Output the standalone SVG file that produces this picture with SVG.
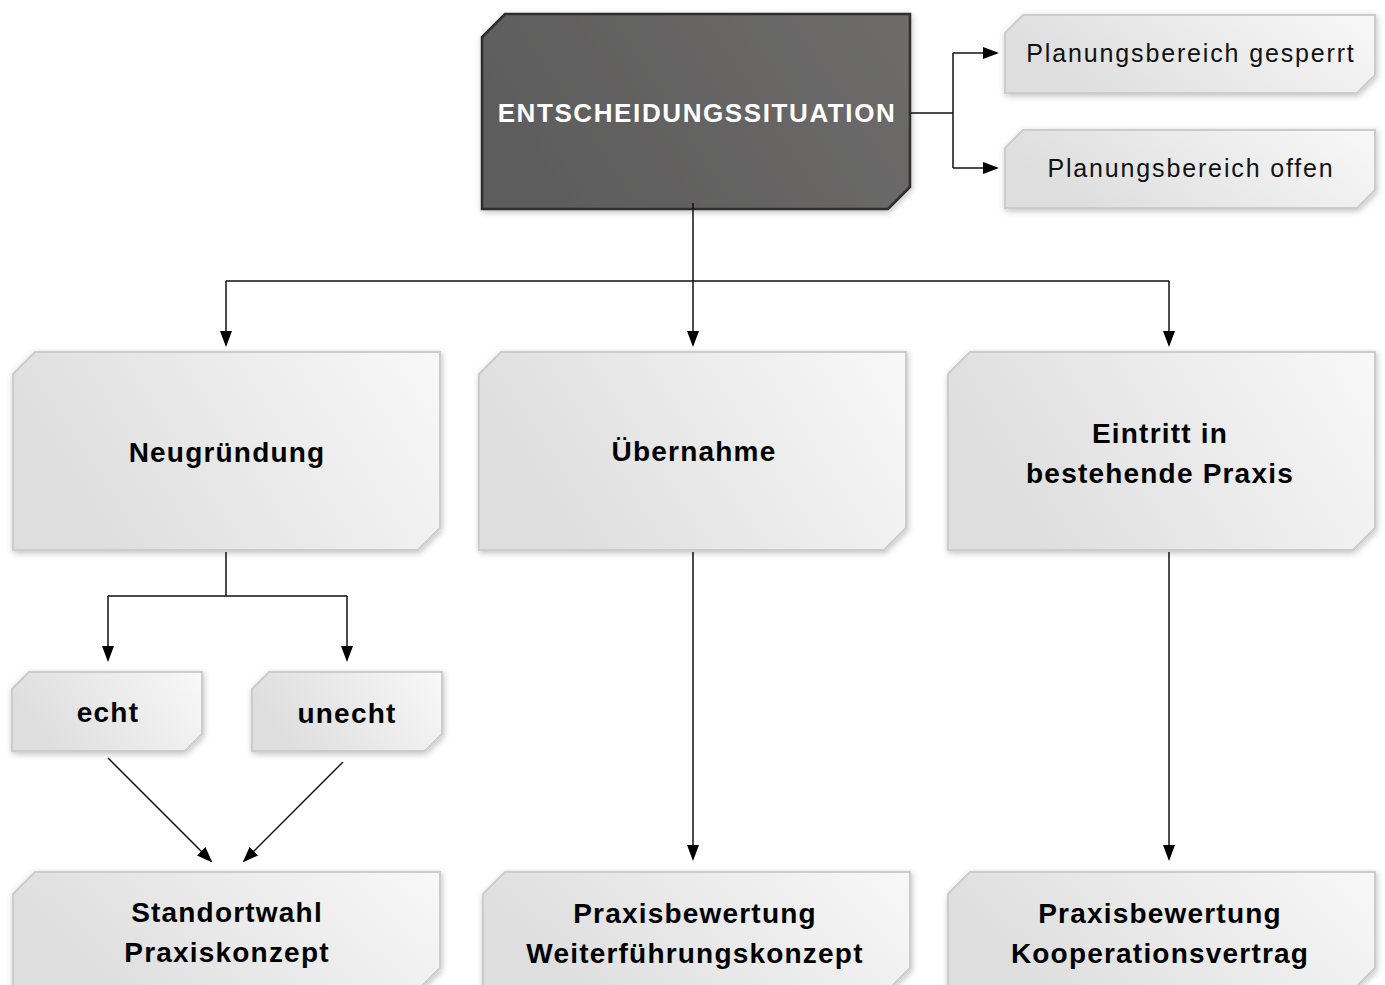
<svg xmlns="http://www.w3.org/2000/svg" width="1385" height="985" viewBox="0 0 1385 985">
<defs>
<linearGradient id="gLight" x1="0" y1="0.3" x2="1" y2="0">
<stop offset="0" stop-color="#dedede"/>
<stop offset="1" stop-color="#f8f8f8"/>
</linearGradient>
<linearGradient id="gDark" x1="0" y1="0.3" x2="1" y2="0">
<stop offset="0" stop-color="#5d5d5d"/>
<stop offset="1" stop-color="#6e6c6b"/>
</linearGradient>
<filter id="shadow" x="-10%" y="-10%" width="120%" height="130%">
<feDropShadow dx="1" dy="2" stdDeviation="3" flood-color="#000" flood-opacity="0.25"/>
</filter>
<marker id="arr" viewBox="0 0 16 12" refX="14" refY="6" markerWidth="16" markerHeight="12" markerUnits="userSpaceOnUse" orient="auto">
<path d="M0,0 L16,6 L0,12 Z" fill="#000"/>
</marker>
</defs>
<style>
.light{fill:url(#gLight);stroke:#cccccc;stroke-width:2;filter:url(#shadow)}
.dark{fill:url(#gDark);stroke:#2d2d2d;stroke-width:2.5;filter:url(#shadow)}
.b{font-family:"Liberation Sans",Arial,sans-serif;font-weight:bold;font-size:28px;letter-spacing:1.2px;fill:#000;text-anchor:middle}
.r{font-family:"Liberation Sans",Arial,sans-serif;font-size:25px;letter-spacing:1.85px;fill:#111;text-anchor:middle}
.w{font-family:"Liberation Sans",Arial,sans-serif;font-weight:bold;font-size:26px;letter-spacing:1.6px;fill:#fff;text-anchor:middle}
.c{fill:none;stroke:#111;stroke-width:1.5}
.a{marker-end:url(#arr)}
</style>
<rect width="1385" height="985" fill="#fff"/>

<g id="entscheidungssituation">
<path class="dark" d="M505,14 H910 V187 L888,209 H482 V37 Z"/>
<text class="w" x="697" y="122">ENTSCHEIDUNGSSITUATION</text>
</g>
<g id="gesperrt">
<path class="light" d="M1023,15 H1375 V75 L1357,93 H1005 V33 Z"/>
<text class="r" x="1191" y="62">Planungsbereich gesperrt</text>
</g>
<g id="offen">
<path class="light" d="M1023,130 H1375 V190 L1357,208 H1005 V148 Z"/>
<text class="r" x="1191" y="177">Planungsbereich offen</text>
</g>
<g id="neugruendung">
<path class="light" d="M35,352 H440 V528 L418,550 H13 V374 Z"/>
<text class="b" x="227" y="462">Neugründung</text>
</g>
<g id="uebernahme">
<path class="light" d="M501,352 H906 V528 L884,550 H479 V374 Z"/>
<text class="b" x="694" y="461">Übernahme</text>
</g>
<g id="eintritt">
<path class="light" d="M970,352 H1375 V528 L1353,550 H948 V374 Z"/>
<text class="b" x="1160" y="443">Eintritt in</text>
<text class="b" x="1160" y="483">bestehende Praxis</text>
</g>
<g id="echt">
<path class="light" d="M29,672 H202 V734 L185,751 H12 V689 Z"/>
<text class="b" x="108" y="722">echt</text>
</g>
<g id="unecht">
<path class="light" d="M269,672 H442 V734 L425,751 H252 V689 Z"/>
<text class="b" x="347" y="723">unecht</text>
</g>
<g id="standortwahl">
<path class="light" d="M35,872 H440 V968 L418,990 H13 V894 Z"/>
<text class="b" x="227" y="922">Standortwahl</text>
<text class="b" x="227" y="962">Praxiskonzept</text>
</g>
<g id="weiterfuehrung">
<path class="light" d="M505,872 H910 V968 L888,990 H483 V894 Z"/>
<text class="b" x="695" y="923">Praxisbewertung</text>
<text class="b" x="695" y="963">Weiterführungskonzept</text>
</g>
<g id="kooperation">
<path class="light" d="M970,872 H1375 V968 L1353,990 H948 V894 Z"/>
<text class="b" x="1160" y="923">Praxisbewertung</text>
<text class="b" x="1160" y="963">Kooperationsvertrag</text>
</g>

<g id="connectors">
<path class="c a" d="M693,203 V345"/>
<path class="c" d="M226,281 H1169"/>
<path class="c a" d="M226,281 V345"/>
<path class="c a" d="M1169,281 V345"/>
<path class="c" d="M911,113 H953 M953,53 V168"/>
<path class="c a" d="M953,53 H997"/>
<path class="c a" d="M953,168 H997"/>
<path class="c" d="M226,552 V596 M108,596 H347"/>
<path class="c a" d="M108,596 V660"/>
<path class="c a" d="M347,596 V660"/>
<path class="c a" d="M108,758 L211,861"/>
<path class="c a" d="M343,762 L244,861"/>
<path class="c a" d="M693,552 V859"/>
<path class="c a" d="M1169,552 V859"/>
</g>
</svg>
